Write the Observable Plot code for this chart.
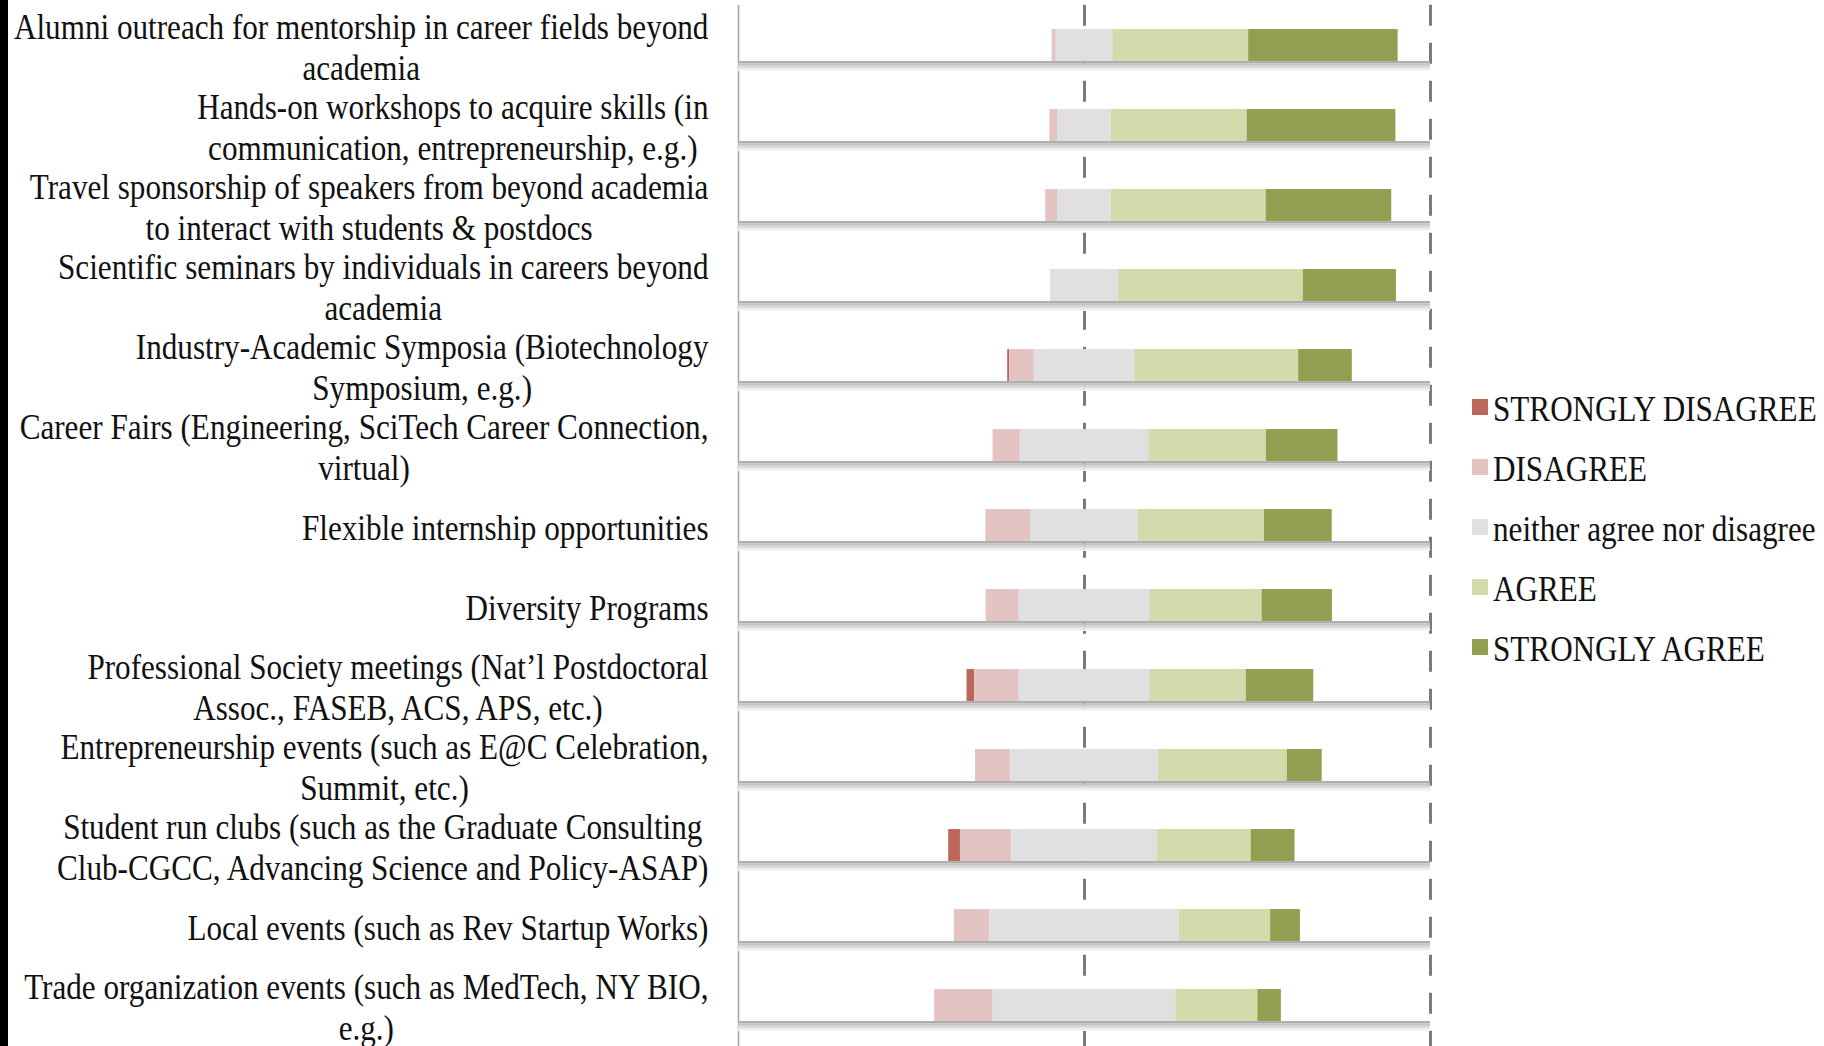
<!DOCTYPE html>
<html><head><meta charset="utf-8">
<script src="https://cdn.jsdelivr.net/npm/d3@7"></script>
<script src="https://cdn.jsdelivr.net/npm/@observablehq/plot@0.6"></script>
<style>
html,body{margin:0;padding:0;background:#fff;}
#wrap{position:relative;width:1824px;height:1046px;overflow:hidden;background:#fff;}
#chart{position:absolute;left:0;top:0;}
#edge{position:absolute;left:0;top:0;width:8px;height:1046px;background:#000;}
#legend{position:absolute;left:1472px;top:380px;font-family:"Liberation Serif","Times New Roman",serif;font-size:35px;color:#111;}
.item{position:relative;height:60px;line-height:60px;white-space:nowrap;}
.sw{position:absolute;left:0;top:19px;width:16px;height:16px;}
.lab{position:absolute;left:21px;top:0;transform:scaleX(0.89);transform-origin:0 50%;}
</style></head>
<body><div id="wrap"><div id="chart"></div><div id="edge"></div><div id="legend"></div></div>
<script>
const categories = [
  "Alumni outreach for mentorship in career fields beyond\nacademia",
  "Hands-on workshops to acquire skills (in\ncommunication, entrepreneurship, e.g.)",
  "Travel sponsorship of speakers from beyond academia\nto interact with students & postdocs",
  "Scientific seminars by individuals in careers beyond\nacademia",
  "Industry-Academic Symposia (Biotechnology\nSymposium, e.g.)",
  "Career Fairs (Engineering, SciTech Career Connection,\nvirtual)",
  "Flexible internship opportunities",
  "Diversity Programs",
  "Professional Society meetings (Nat\u2019l Postdoctoral\nAssoc., FASEB, ACS, APS, etc.)",
  "Entrepreneurship events (such as E@C Celebration,\nSummit, etc.)",
  "Student run clubs (such as the Graduate Consulting\nClub-CGCC, Advancing Science and Policy-ASAP)",
  "Local events (such as Rev Startup Works)",
  "Trade organization events (such as MedTech, NY BIO,\ne.g.)"
];
const responses = ["STRONGLY DISAGREE", "DISAGREE", "neither agree nor disagree", "AGREE", "STRONGLY AGREE"];
// percentages
const stronglyDisagree = [0, 0, 0, 0, 0.6, 0, 0, 0, 2.2, 0, 3.4, 0, 0];
const disagree         = [1.2, 2.2, 3.4, 0, 7.1, 7.9, 12.9, 9.6, 12.9, 10.2, 14.9, 10.2, 16.9];
const neutral          = [16.3, 15.6, 15.6, 19.7, 29.0, 37.1, 31.2, 37.7, 37.7, 42.6, 41.9, 54.8, 52.8];
const agree            = [39.3, 39.2, 44.7, 53.4, 47.4, 34.0, 36.4, 32.5, 27.9, 37.3, 27.2, 26.4, 23.7];
const stronglyAgree    = [43.2, 43.0, 36.3, 26.9, 15.5, 20.7, 19.6, 20.3, 19.5, 10.1, 12.7, 8.6, 6.8];
const xDomain = [-1, 1];
const gridValues = [0, 1];

const colors = ["#bd675b", "#e3c4c2", "#e0e0e0", "#d2dbab", "#909f50"];

// diverging stack centred on the middle of the neutral segment
const series = [stronglyDisagree, disagree, neutral, agree, stronglyAgree];
const segments = [];
categories.forEach((c, i) => {
  let x = -(stronglyDisagree[i] + disagree[i] + neutral[i] / 2) / 100;
  series.forEach((s, k) => {
    const v = s[i] / 100;
    if (v > 0) segments.push({category: c, response: responses[k], x1: x, x2: x + v});
    x += v;
  });
});

const W = 1460, H = 1046, MT = 4.7;
const step = (H - MT) / categories.length;
const half = step / 2;
const barHalf = 16;

const sepBar = (from, to, fill) => Plot.barX(categories, {
  x1: xDomain[0], x2: xDomain[1], y: d => d, fill,
  insetTop: half + from, insetBottom: half - to
});

const svg = Plot.plot({
  width: W, height: H,
  marginLeft: 738, marginRight: 30, marginTop: MT, marginBottom: 0,
  x: {domain: xDomain, axis: null},
  y: {domain: categories, axis: null, padding: 0},
  color: {domain: responses, range: colors},
  style: {background: "transparent", overflow: "visible"},
  marks: [
    Plot.ruleX([xDomain[0]], {stroke: "#a3a3a3", strokeWidth: 1.5}),
    Plot.ruleX(gridValues, {stroke: "#7b7b7b", strokeWidth: 3, strokeDasharray: "21,17"}),
    sepBar(24, 26, "#f4f4f4"),
    sepBar(22, 24, "#e4e4e4"),
    sepBar(20, 22, "#d2d2d2"),
    sepBar(18.2, 20, "#c2c2c2"),
    sepBar(16, 18.2, "#adadad"),
    Plot.barX(segments, {x1: "x1", x2: "x2", y: "category", fill: "response",
      insetTop: half - barHalf, insetBottom: half - barHalf}),
    Plot.text(categories, {
      y: d => d, text: d => d, frameAnchor: "left", dx: -30, dy: 1,
      textAnchor: "end", lineAnchor: "middle", lineHeight: 1.16,
      fontSize: 35, fontFamily: "Liberation Serif", fill: "#111"
    })
  ]
});
document.getElementById("chart").append(svg);

// centre wrapped lines within each label block and narrow the glyphs like the original
const SQUEEZE = 0.89;
svg.querySelectorAll('g[aria-label="text"] text').forEach(t => {
  const spans = t.querySelectorAll("tspan");
  if (spans.length > 1) {
    const maxW = Math.max(...Array.from(spans, s => s.getComputedTextLength()));
    t.style.textAnchor = "middle";
    spans.forEach(s => s.setAttribute("x", -maxW / 2));
  }
  let tr = t.getAttribute("transform");
  if (!tr) {
    const x = +t.getAttribute("x") || 0;
    tr = `translate(${x},0)`;
    t.removeAttribute("x");
  }
  t.setAttribute("transform", tr + ` scale(${SQUEEZE},1)`);
});

// legend
const legend = d3.select("#legend");
responses.forEach((r, k) => {
  const item = legend.append("div").attr("class", "item");
  item.append("div").attr("class", "sw").style("background", colors[k]);
  item.append("div").attr("class", "lab").text(r);
});
</script></body></html>
